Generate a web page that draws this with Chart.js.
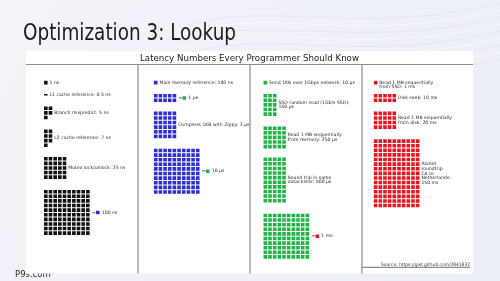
<!DOCTYPE html>
<html><head><meta charset="utf-8">
<script src="https://cdn.jsdelivr.net/npm/chart.js@4.4.1/dist/chart.umd.min.js"></script>
<style>html,body{margin:0;padding:0;background:#eff0f7;overflow:hidden}canvas{display:block}</style>
</head><body>
<canvas id="c" width="500" height="281"></canvas>
<script>
// ---------------- DATA ----------------
const slideTitle = 'Optimization 3: Lookup';
const chartTitle = 'Latency Numbers Every Programmer Should Know';
const sourceText = 'Source: https://gist.github.com/2841832';
const footerText = 'P9s.com';

// column 1: black squares, 1 square = 1 ns
const blackLabels = ['1 ns', 'L1 cache reference: 0.5 ns', 'Branch mispredict: 5 ns', 'L2 cache reference: 7 ns', 'Mutex lock/unlock: 25 ns', '100 ns'];
const blackValuesNs = [1, 0.5, 5, 7, 25, 100];
// column 2: blue squares, 1 square = 100 ns
const blueLabels = ['Main memory reference: 100 ns', '1 µs', 'Compress 1KB with Zippy: 3 µs', '10 µs'];
const blueValuesNs = [100, 1000, 3000, 10000];
// column 3: green squares, 1 square = 10 µs
const greenLabels = ['Send 1KB over 1Gbps network: 10 µs', 'SSD random read (1Gb/s SSD):\n150 µs', 'Read 1 MB sequentially\nfrom memory: 250 µs', 'Round trip in same\ndatacenter: 500 µs', '1 ms'];
const greenValuesUs = [10, 150, 250, 500, 1000];
// column 4: red squares, 1 square = 1 ms
const redLabels = ['Read 1 MB sequentially\nfrom SSD: 1 ms', 'Disk seek: 10 ms', 'Read 1 MB sequentially\nfrom disk: 20 ms', 'Packet\nroundtrip\nCA to\nNetherlands:\n150 ms'];
const redValuesMs = [1, 10, 20, 150];
// size of one square per column (in that column's unit)
const unitPerSquare = [1, 100, 10, 1];
// rows that show "= [next colour square] label"
const equalsRows = [[5], [1, 3], [4], []];

// ---------------- LAYOUT / STYLE ----------------
const colColors = ['#111111', '#2d2dd2', '#1fb446', '#e8141e'];
const colX0 = [40.5, 152.3, 263.8, 376];
const rowTops = [
  [79, 91.5, 105.5, 129.3, 157.5, 191.5],
  [79, 92.5, 110.7, 149],
  [79, 92.5, 126, 158, 216],
  [79, 92.5, 110.7, 139.3]
];
const colsPerRow = [
  [1, 1, 2, 2, 5, 10],
  [1, 5, 5, 10],
  [1, 3, 5, 5, 10],
  [1, 5, 5, 10]
];
const PITCH = 4.75, SQ = 3.6, LINE_H = 4.8;
const LABEL_FONT = "4.6px 'DejaVu Sans', sans-serif";

const columns = [
  {labels: blackLabels, values: blackValuesNs},
  {labels: blueLabels, values: blueValuesNs},
  {labels: greenLabels, values: greenValuesUs},
  {labels: redLabels, values: redValuesMs}
];

// ---------------- BUILD POINTS ----------------
const squareSets = [], halfPts = [], eqPts = [], eqColors = [], textItems = [];
columns.forEach((col, ci) => {
  const pts = [];
  col.values.forEach((v, ri) => {
    const count = v / unitPerSquare[ci];
    const cols = colsPerRow[ci][ri];
    const x0 = colX0[ci], top = rowTops[ci][ri];
    const whole = Math.floor(count);
    for (let i = 0; i < whole; i++) {
      const c = i % cols, r = Math.floor(i / cols);
      pts.push({x: x0 + c * PITCH + SQ / 2, y: top + r * PITCH + SQ / 2});
    }
    if (count - whole >= 0.5) {
      const c = whole % cols, r = Math.floor(whole / cols);
      halfPts.push({x: x0 + c * PITCH + SQ / 2, y: top + r * PITCH + SQ / 2});
    }
    const n = Math.max(1, Math.ceil(count));
    const rows = Math.ceil(n / cols);
    const used = Math.min(cols, n);
    const right = x0 + (used - 1) * PITCH + SQ;
    const cy = top + ((rows - 1) * PITCH + SQ) / 2;
    const lines = col.labels[ri].split('\n');
    if (equalsRows[ci].includes(ri)) {
      textItems.push({x: right + 2.3, y: cy, lines: ['=']});
      eqPts.push({x: right + 6.5 + SQ / 2, y: cy});
      eqColors.push(colColors[ci + 1]);
      textItems.push({x: right + 6.5 + SQ + 2.3, y: cy, lines});
    } else {
      let y0;
      if (rows === 1 && lines.length > 1) y0 = cy;
      else y0 = cy - (lines.length - 1) * LINE_H / 2;
      textItems.push({x: right + 2, y: y0, lines});
    }
  });
  squareSets.push(pts);
});

// ---------------- DECORATION PLUGIN ----------------
function drawFitted(ctx, text, x, y, target, font, color) {
  ctx.save();
  ctx.font = font;
  ctx.fillStyle = color;
  ctx.textBaseline = 'alphabetic';
  ctx.textAlign = 'left';
  const w = ctx.measureText(text).width;
  ctx.translate(x, y);
  ctx.scale(target / w, 1);
  ctx.fillText(text, 0, 0);
  ctx.restore();
}

const decor = {
  id: 'decor',
  beforeDraw(chart) {
    const ctx = chart.ctx;
    ctx.save();
    const g = ctx.createLinearGradient(0, 0, 500, 281);
    g.addColorStop(0, '#f3f4fa');
    g.addColorStop(1, '#eceef6');
    ctx.fillStyle = g;
    ctx.fillRect(0, 0, 500, 281);
    // faint wavy texture
    ctx.lineWidth = 1;
    for (let k = 0; k < 9; k++) {
      ctx.strokeStyle = k % 2 ? 'rgba(255,255,255,0.55)' : 'rgba(214,218,235,0.45)';
      ctx.beginPath();
      const b = 8 + k * 7;
      ctx.moveTo(180, b + 20);
      ctx.bezierCurveTo(260, b - 10, 360, b + 30, 500, b - 5);
      ctx.stroke();
    }
    // footer text (partly covered by panel)
    ctx.fillStyle = '#2a2a2a';
    ctx.font = "8.5px 'DejaVu Sans', sans-serif";
    ctx.textBaseline = 'alphabetic';
    ctx.fillText(footerText, 15, 277);
    // slide title
    drawFitted(ctx, slideTitle, 23, 40, 213, "23px 'Liberation Sans Narrow', 'DejaVu Sans', sans-serif", '#1c1c1c');
    // white panel
    ctx.fillStyle = '#ffffff';
    ctx.fillRect(26, 51, 447, 222.5);
    // header text
    drawFitted(ctx, chartTitle, 140, 61, 219, "8.5px 'DejaVu Sans', sans-serif", '#222');
    // rules
    ctx.strokeStyle = '#8d8d8d';
    ctx.lineWidth = 1.2;
    ctx.beginPath();
    ctx.moveTo(26, 64.5); ctx.lineTo(473, 64.5);
    [138, 250, 362].forEach(x => { ctx.moveTo(x, 64.5); ctx.lineTo(x, 273.5); });
    ctx.moveTo(362, 267.3); ctx.lineTo(470, 267.3);
    ctx.stroke();
    // source
    drawFitted(ctx, sourceText, 381, 265.6, 89, "4.6px 'DejaVu Sans', sans-serif", '#333');
    ctx.restore();
  },
  afterDatasetsDraw(chart) {
    const ctx = chart.ctx;
    const xs = chart.scales.x, ys = chart.scales.y;
    ctx.save();
    ctx.font = LABEL_FONT;
    ctx.fillStyle = '#2a2a2a';
    ctx.textBaseline = 'middle';
    ctx.textAlign = 'left';
    textItems.forEach(t => {
      t.lines.forEach((ln, i) => {
        ctx.fillText(ln, xs.getPixelForValue(t.x), ys.getPixelForValue(t.y + i * LINE_H));
      });
    });
    ctx.restore();
  }
};

// ---------------- CHART ----------------
const R = SQ / (2 * Math.SQRT1_2);
const datasets = squareSets.map((pts, i) => ({
  data: pts, pointStyle: 'rect', pointRadius: R, pointBorderWidth: 0,
  backgroundColor: colColors[i], borderColor: colColors[i], showLine: false
}));
datasets.push({data: halfPts, pointStyle: 'line', pointRadius: SQ / 2, pointBorderWidth: 1.7,
  borderColor: colColors[0], backgroundColor: colColors[0], showLine: false});
datasets.push({data: eqPts, pointStyle: 'rect', pointRadius: R, pointBorderWidth: 0,
  backgroundColor: eqColors, borderColor: eqColors, showLine: false});

new Chart(document.getElementById('c'), {
  type: 'scatter',
  data: {datasets},
  options: {
    responsive: false, devicePixelRatio: 1, animation: false, events: [],
    layout: {padding: 0},
    plugins: {legend: {display: false}, tooltip: {enabled: false}},
    scales: {
      x: {type: 'linear', min: 0, max: 500, display: false},
      y: {type: 'linear', min: 0, max: 281, reverse: true, display: false}
    },
    elements: {point: {hoverRadius: R}}
  },
  plugins: [decor]
});
</script>
</body></html>
